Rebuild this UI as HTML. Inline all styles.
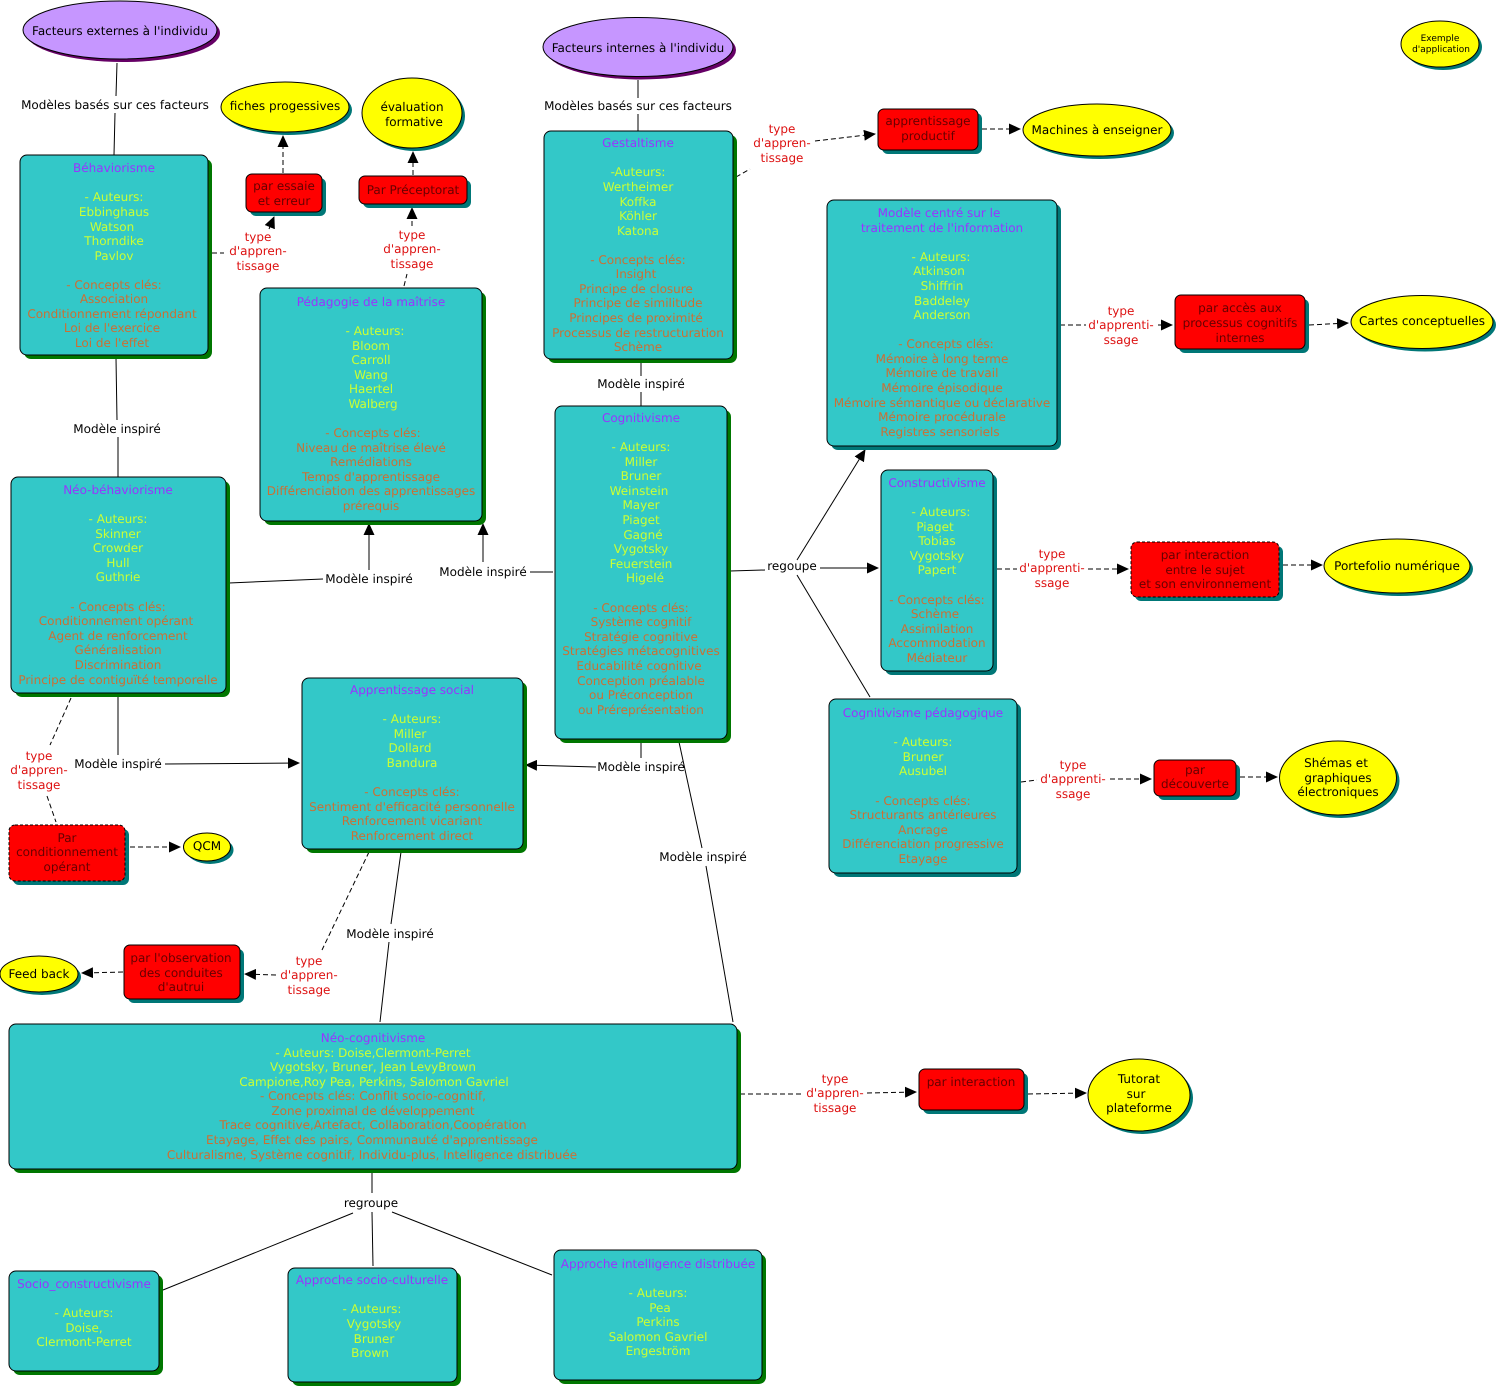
<!DOCTYPE html>
<html><head><meta charset="utf-8"><style>
html,body{margin:0;padding:0;background:#fff}
svg{display:block}
text{font-family:"DejaVu Sans","Liberation Sans",sans-serif;font-size:12px;text-anchor:middle;text-rendering:geometricPrecision}
.p{fill:#9933ff}.y{fill:#ccff33}.o{fill:#cc6f33}.k{fill:#000}.r{fill:#dd1111}.d{fill:#660000}
.b{fill:#33c8c8;stroke:#000;stroke-width:1}
.rd{fill:#f00;stroke:#000;stroke-width:1}
.rs{fill:#f00;stroke:#000;stroke-width:1;stroke-dasharray:3 2}
.g{fill:#007700}.t{fill:#007777}
.el{fill:#ff0;stroke:#000;stroke-width:1}
.pu{fill:#c696ff;stroke:#000;stroke-width:1}
line{stroke:#000;stroke-width:1}
.ds{stroke-dasharray:5 3}
</style></head><body>
<svg xmlns="http://www.w3.org/2000/svg" width="1500" height="1389" viewBox="0 0 1500 1389">
<defs><marker id="a" markerUnits="userSpaceOnUse" markerWidth="12" markerHeight="11" refX="11" refY="5.5" orient="auto"><path d="M0 0L12 5.5L0 11Z" fill="#000"/></marker></defs>

<!-- solid connectors -->
<line x1="117" y1="63" x2="116" y2="96"/><line x1="115" y1="113" x2="114" y2="155"/>
<line x1="638" y1="80" x2="638" y2="98"/><line x1="638" y1="114" x2="638" y2="131"/>
<line x1="116" y1="358" x2="117" y2="420"/><line x1="118" y1="437" x2="118" y2="477"/>
<line x1="229" y1="583" x2="323" y2="579"/><line x1="369" y1="570" x2="369" y2="524" marker-end="url(#a)"/>
<line x1="553" y1="572" x2="530" y2="572"/><line x1="483" y1="562" x2="483" y2="524" marker-end="url(#a)"/>
<line x1="641" y1="362" x2="641" y2="376"/><line x1="641" y1="392" x2="641" y2="406"/>
<line x1="118" y1="696" x2="118" y2="755"/><line x1="165" y1="764" x2="299" y2="763" marker-end="url(#a)"/>
<line x1="641" y1="742" x2="641" y2="758"/><line x1="596" y1="767" x2="526" y2="765" marker-end="url(#a)"/>
<line x1="679" y1="742" x2="702" y2="848"/><line x1="706" y1="866" x2="733" y2="1022"/>
<line x1="401" y1="852" x2="391" y2="924"/><line x1="389" y1="942" x2="380" y2="1022"/>
<line x1="730" y1="571" x2="765" y2="570"/><line x1="820" y1="568" x2="878" y2="568" marker-end="url(#a)"/>
<line x1="797" y1="560" x2="865" y2="450" marker-end="url(#a)"/><line x1="797" y1="575" x2="870" y2="697"/>
<line x1="372" y1="1172" x2="372" y2="1193"/><line x1="353" y1="1213" x2="163" y2="1290"/>
<line x1="372" y1="1212" x2="373" y2="1266"/><line x1="392" y1="1212" x2="552" y2="1275"/>

<!-- dashed connectors -->
<g class="ds">
<line class="ds" x1="212" y1="253" x2="224" y2="253"/><line class="ds" x1="269" y1="229" x2="274" y2="217" marker-end="url(#a)"/>
<line class="ds" x1="283" y1="173" x2="283" y2="136" marker-end="url(#a)"/>
<line class="ds" x1="404" y1="286" x2="407" y2="274"/><line class="ds" x1="412" y1="226" x2="412" y2="208" marker-end="url(#a)"/>
<line class="ds" x1="413" y1="175" x2="413" y2="152" marker-end="url(#a)"/>
<line class="ds" x1="736" y1="177" x2="750" y2="169"/><line class="ds" x1="815" y1="141" x2="875" y2="134" marker-end="url(#a)"/>
<line class="ds" x1="982" y1="129" x2="1020" y2="129" marker-end="url(#a)"/>
<line class="ds" x1="1060" y1="325" x2="1086" y2="325"/><line class="ds" x1="1158" y1="325" x2="1172" y2="325" marker-end="url(#a)"/>
<line class="ds" x1="1309" y1="325" x2="1348" y2="323" marker-end="url(#a)"/>
<line class="ds" x1="997" y1="569" x2="1017" y2="569"/><line class="ds" x1="1088" y1="569" x2="1128" y2="569" marker-end="url(#a)"/>
<line class="ds" x1="1283" y1="565" x2="1322" y2="565" marker-end="url(#a)"/>
<line class="ds" x1="1021" y1="782" x2="1037" y2="780"/><line class="ds" x1="1110" y1="779" x2="1151" y2="779" marker-end="url(#a)"/>
<line class="ds" x1="1240" y1="777" x2="1277" y2="777" marker-end="url(#a)"/>
<line class="ds" x1="71" y1="698" x2="50" y2="745"/><line class="ds" x1="47" y1="796" x2="56" y2="822"/>
<line class="ds" x1="130" y1="847" x2="180" y2="847" marker-end="url(#a)"/>
<line class="ds" x1="369" y1="852" x2="322" y2="950"/><line class="ds" x1="276" y1="975" x2="245" y2="974" marker-end="url(#a)"/>
<line class="ds" x1="123" y1="972" x2="82" y2="973" marker-end="url(#a)"/>
<line class="ds" x1="740" y1="1094" x2="803" y2="1094"/><line class="ds" x1="867" y1="1093" x2="916" y2="1092" marker-end="url(#a)"/>
<line class="ds" x1="1028" y1="1094" x2="1086" y2="1093" marker-end="url(#a)"/>
</g>

<!-- ellipses -->
<ellipse cx="123" cy="33" rx="97" ry="29" fill="#660066"/><ellipse class="pu" cx="120" cy="30" rx="97" ry="29"/>
<ellipse cx="641" cy="50" rx="95" ry="29.5" fill="#660066"/><ellipse class="pu" cx="638" cy="47" rx="95" ry="29.5"/>
<ellipse class="t" cx="1443" cy="47" rx="39" ry="23"/><ellipse class="el" cx="1440" cy="44" rx="39" ry="23"/>
<ellipse class="t" cx="288" cy="110" rx="64" ry="25"/><ellipse class="el" cx="285" cy="107" rx="64" ry="25"/>
<ellipse class="t" cx="415" cy="116" rx="50" ry="35"/><ellipse class="el" cx="412" cy="113" rx="50" ry="35"/>
<ellipse class="t" cx="1100" cy="133" rx="74" ry="26"/><ellipse class="el" cx="1097" cy="130" rx="74" ry="26"/>
<ellipse class="t" cx="1425" cy="325" rx="71" ry="26.5"/><ellipse class="el" cx="1422" cy="322" rx="71" ry="26.5"/>
<ellipse class="t" cx="1400" cy="569" rx="73" ry="27"/><ellipse class="el" cx="1397" cy="566" rx="73" ry="27"/>
<ellipse class="t" cx="1341" cy="781" rx="58.5" ry="37"/><ellipse class="el" cx="1338" cy="778" rx="58.5" ry="37"/>
<ellipse class="t" cx="210" cy="850" rx="23.5" ry="14"/><ellipse class="el" cx="207" cy="847" rx="23.5" ry="14"/>
<ellipse class="t" cx="42" cy="977" rx="39" ry="18"/><ellipse class="el" cx="39" cy="974" rx="39" ry="18"/>
<ellipse class="t" cx="1142" cy="1098" rx="51" ry="36"/><ellipse class="el" cx="1139" cy="1095" rx="51" ry="36"/>

<!-- red boxes -->
<rect class="t" x="250" y="178" width="76" height="38" rx="6"/><rect class="rd" x="246" y="174" width="76" height="38" rx="6"/>
<rect class="t" x="363" y="180" width="108" height="28" rx="6"/><rect class="rd" x="359" y="176" width="108" height="28" rx="6"/>
<rect class="t" x="882" y="113" width="100" height="41" rx="6"/><rect class="rd" x="878" y="109" width="100" height="41" rx="6"/>
<rect class="t" x="1179" y="299" width="130" height="54" rx="6"/><rect class="rd" x="1175" y="295" width="130" height="54" rx="6"/>
<rect class="t" x="1135" y="546" width="148" height="55" rx="6"/><rect class="rs" x="1131" y="542" width="148" height="55" rx="6"/>
<rect class="t" x="1158" y="764" width="82" height="36" rx="6"/><rect class="rd" x="1154" y="760" width="82" height="36" rx="6"/>
<rect class="t" x="13" y="829" width="116" height="56" rx="6"/><rect class="rs" x="9" y="825" width="116" height="56" rx="6"/>
<rect class="t" x="128" y="949" width="116" height="54" rx="6"/><rect class="rd" x="124" y="945" width="116" height="54" rx="6"/>
<rect class="t" x="923" y="1073" width="105" height="41" rx="6"/><rect class="rd" x="919" y="1069" width="105" height="41" rx="6"/>

<!-- teal boxes -->
<rect class="g" x="24" y="159" width="188" height="200" rx="7"/><rect class="b" x="20" y="155" width="188" height="200" rx="7"/>
<rect class="g" x="264" y="292" width="222" height="233" rx="7"/><rect class="b" x="260" y="288" width="222" height="233" rx="7"/>
<rect class="g" x="548" y="135" width="189" height="228" rx="7"/><rect class="b" x="544" y="131" width="189" height="228" rx="7"/>
<rect class="t" x="831" y="204" width="230" height="246" rx="7"/><rect class="b" x="827" y="200" width="230" height="246" rx="7"/>
<rect class="g" x="559" y="410" width="172" height="333" rx="7"/><rect class="b" x="555" y="406" width="172" height="333" rx="7"/>
<rect class="t" x="885" y="474" width="112" height="201" rx="7"/><rect class="b" x="881" y="470" width="112" height="201" rx="7"/>
<rect class="t" x="833" y="703" width="188" height="174" rx="7"/><rect class="b" x="829" y="699" width="188" height="174" rx="7"/>
<rect class="g" x="15" y="481" width="215" height="216" rx="7"/><rect class="b" x="11" y="477" width="215" height="216" rx="7"/>
<rect class="g" x="306" y="682" width="221" height="171" rx="7"/><rect class="b" x="302" y="678" width="221" height="171" rx="7"/>
<rect class="g" x="13" y="1028" width="728" height="145" rx="7"/><rect class="b" x="9" y="1024" width="728" height="145" rx="7"/>
<rect class="g" x="13" y="1275" width="150" height="100" rx="7"/><rect class="b" x="9" y="1271" width="150" height="100" rx="7"/>
<rect class="g" x="292" y="1272" width="169" height="114" rx="7"/><rect class="b" x="288" y="1268" width="169" height="114" rx="7"/>
<rect class="g" x="558" y="1254" width="208" height="130" rx="7"/><rect class="b" x="554" y="1250" width="208" height="130" rx="7"/>

<!-- ellipse labels -->
<text class="k" x="120" y="35">Facteurs externes à l'individu</text>
<text class="k" x="638" y="52">Facteurs internes à l'individu</text>
<text class="k" x="1440" y="41" style="font-size:9px">Exemple</text>
<text class="k" x="1441" y="52" style="font-size:9px">d'application</text>
<text class="k" x="285" y="110">fiches progessives</text>
<text class="k" x="412" y="111">évaluation</text><text class="k" x="414" y="126">formative</text>
<text class="k" x="1097" y="134">Machines à enseigner</text>
<text class="k" x="1422" y="325">Cartes conceptuelles</text>
<text class="k" x="1397" y="570">Portefolio numérique</text>
<text class="k" x="1336" y="767">Shémas et</text><text class="k" x="1338" y="782">graphiques</text><text class="k" x="1338" y="796">électroniques</text>
<text class="k" x="207" y="850">QCM</text>
<text class="k" x="39" y="978">Feed back</text>
<text class="k" x="1139" y="1083">Tutorat</text><text class="k" x="1136" y="1098">sur</text><text class="k" x="1139" y="1112">plateforme</text>

<!-- red box labels -->
<text class="d" x="284" y="190">par essaie</text><text class="d" x="284" y="205">et erreur</text>
<text class="d" x="413" y="194">Par Préceptorat</text>
<text class="d" x="928" y="125">apprentissage</text><text class="d" x="928" y="140">productif</text>
<text class="d" x="1240" y="312">par accès aux</text><text class="d" x="1240" y="327">processus cognitifs</text><text class="d" x="1240" y="342">internes</text>
<text class="d" x="1205" y="559">par interaction</text><text class="d" x="1205" y="574">entre le sujet</text><text class="d" x="1205" y="588">et son environnement</text>
<text class="d" x="1195" y="774">par</text><text class="d" x="1195" y="788">découverte</text>
<text class="d" x="67" y="842">Par</text><text class="d" x="67" y="856">conditionnement</text><text class="d" x="67" y="871">opérant</text>
<text class="d" x="181" y="962">par l'observation</text><text class="d" x="181" y="977">des conduites</text><text class="d" x="181" y="991">d'autrui</text>
<text class="d" x="971" y="1086">par interaction</text>

<!-- connector labels -->
<text class="k" x="115" y="109">Modèles basés sur ces facteurs</text>
<text class="k" x="638" y="110">Modèles basés sur ces facteurs</text>
<text class="k" x="117" y="433">Modèle inspiré</text>
<text class="k" x="369" y="583">Modèle inspiré</text>
<text class="k" x="483" y="576">Modèle inspiré</text>
<text class="k" x="641" y="388">Modèle inspiré</text>
<text class="k" x="118" y="768">Modèle inspiré</text>
<text class="k" x="641" y="771">Modèle inspiré</text>
<text class="k" x="703" y="861">Modèle inspiré</text>
<text class="k" x="390" y="938">Modèle inspiré</text>
<text class="k" x="792" y="570">regoupe</text>
<text class="k" x="371" y="1207">regroupe</text>

<text class="r" x="258" y="241">type</text><text class="r" x="258" y="255">d'appren-</text><text class="r" x="258" y="270">tissage</text>
<text class="r" x="412" y="239">type</text><text class="r" x="412" y="253">d'appren-</text><text class="r" x="412" y="268">tissage</text>
<text class="r" x="782" y="133">type</text><text class="r" x="782" y="147">d'appren-</text><text class="r" x="782" y="162">tissage</text>
<text class="r" x="1121" y="315">type</text><text class="r" x="1121" y="329">d'apprenti-</text><text class="r" x="1121" y="344">ssage</text>
<text class="r" x="1052" y="558">type</text><text class="r" x="1052" y="572">d'apprenti-</text><text class="r" x="1052" y="587">ssage</text>
<text class="r" x="1073" y="769">type</text><text class="r" x="1073" y="783">d'apprenti-</text><text class="r" x="1073" y="798">ssage</text>
<text class="r" x="39" y="760">type</text><text class="r" x="39" y="774">d'appren-</text><text class="r" x="39" y="789">tissage</text>
<text class="r" x="309" y="965">type</text><text class="r" x="309" y="979">d'appren-</text><text class="r" x="309" y="994">tissage</text>
<text class="r" x="835" y="1083">type</text><text class="r" x="835" y="1097">d'appren-</text><text class="r" x="835" y="1112">tissage</text>

<!-- Béhaviorisme -->
<text class="p" x="114" y="172">Béhaviorisme</text>
<text class="y" x="114" y="201">- Auteurs:</text><text class="y" x="114" y="216">Ebbinghaus</text><text class="y" x="112" y="231">Watson</text><text class="y" x="114" y="245">Thorndike</text><text class="y" x="114" y="260">Pavlov</text>
<text class="o" x="114" y="289">- Concepts clés:</text><text class="o" x="114" y="303">Association</text><text class="o" x="112" y="318">Conditionnement répondant</text><text class="o" x="112" y="332">Loi de l'exercice</text><text class="o" x="112" y="347">Loi de l'effet</text>

<!-- Pédagogie -->
<text class="p" x="371" y="306">Pédagogie de la maîtrise</text>
<text class="y" x="375" y="335">- Auteurs:</text><text class="y" x="371" y="350">Bloom</text><text class="y" x="371" y="364">Carroll</text><text class="y" x="371" y="379">Wang</text><text class="y" x="371" y="393">Haertel</text><text class="y" x="373" y="408">Walberg</text>
<text class="o" x="373" y="437">- Concepts clés:</text><text class="o" x="371" y="452">Niveau de maîtrise  élevé</text><text class="o" x="371" y="466">Remédiations</text><text class="o" x="371" y="481">Temps d'apprentissage</text><text class="o" x="371" y="495">Différenciation des apprentissages</text><text class="o" x="371" y="510">prérequis</text>

<!-- Gestaltisme -->
<text class="p" x="638" y="147">Gestaltisme</text>
<text class="y" x="638" y="176">-Auteurs:</text><text class="y" x="638" y="191">Wertheimer</text><text class="y" x="638" y="206">Koffka</text><text class="y" x="638" y="220">Köhler</text><text class="y" x="638" y="235">Katona</text>
<text class="o" x="638" y="264">- Concepts clés:</text><text class="o" x="636" y="278">Insight</text><text class="o" x="636" y="293">Principe de closure</text><text class="o" x="638" y="307">Principe de similitude</text><text class="o" x="636" y="322">Principes de proximité</text><text class="o" x="638" y="337">Processus de restructuration</text><text class="o" x="638" y="351">Schème</text>

<!-- Modèle centré -->
<text class="p" x="939" y="217">Modèle centré sur le</text><text class="p" x="942" y="232">traitement de l'information</text>
<text class="y" x="941" y="261">- Auteurs:</text><text class="y" x="939" y="275">Atkinson</text><text class="y" x="942" y="290">Shiffrin</text><text class="y" x="942" y="305">Baddeley</text><text class="y" x="942" y="319">Anderson</text>
<text class="o" x="946" y="348">- Concepts clés:</text><text class="o" x="942" y="363">Mémoire à long terme</text><text class="o" x="942" y="377">Mémoire de travail</text><text class="o" x="942" y="392">Mémoire épisodique</text><text class="o" x="942" y="407">Mémoire sémantique ou déclarative</text><text class="o" x="942" y="421">Mémoire procédurale</text><text class="o" x="940" y="436">Registres sensoriels</text>

<!-- Cognitivisme -->
<text class="p" x="641" y="422">Cognitivisme</text>
<text class="y" x="641" y="451">- Auteurs:</text><text class="y" x="641" y="466">Miller</text><text class="y" x="641" y="480">Bruner</text><text class="y" x="639" y="495">Weinstein</text><text class="y" x="641" y="509">Mayer</text><text class="y" x="641" y="524">Piaget</text><text class="y" x="643" y="539">Gagné</text><text class="y" x="641" y="553">Vygotsky</text><text class="y" x="641" y="568">Feuerstein</text><text class="y" x="645" y="582">Higelé</text>
<text class="o" x="641" y="612">- Concepts clés:</text><text class="o" x="641" y="626">Système cognitif</text><text class="o" x="641" y="641">Stratégie cognitive</text><text class="o" x="641" y="655">Stratégies métacognitives</text><text class="o" x="639" y="670">Educabilité cognitive</text><text class="o" x="641" y="685">Conception préalable</text><text class="o" x="641" y="699">ou Préconception</text><text class="o" x="641" y="714">ou Préreprésentation</text>

<!-- Constructivisme -->
<text class="p" x="937" y="487">Constructivisme</text>
<text class="y" x="941" y="516">- Auteurs:</text><text class="y" x="935" y="531">Piaget</text><text class="y" x="937" y="545">Tobias</text><text class="y" x="937" y="560">Vygotsky</text><text class="y" x="937" y="574">Papert</text>
<text class="o" x="937" y="604">- Concepts clés:</text><text class="o" x="935" y="618">Schème</text><text class="o" x="937" y="633">Assimilation</text><text class="o" x="937" y="647">Accommodation</text><text class="o" x="937" y="662">Médiateur</text>

<!-- Cognitivisme pédagogique -->
<text class="p" x="923" y="717">Cognitivisme pédagogique</text>
<text class="y" x="923" y="746">- Auteurs:</text><text class="y" x="923" y="761">Bruner</text><text class="y" x="923" y="775">Ausubel</text>
<text class="o" x="923" y="805">- Concepts clés:</text><text class="o" x="923" y="819">Structurants antérieures</text><text class="o" x="923" y="834">Ancrage</text><text class="o" x="923" y="848">Différenciation progressive</text><text class="o" x="923" y="863">Etayage</text>

<!-- Néo-béhaviorisme -->
<text class="p" x="118" y="494">Néo-béhaviorisme</text>
<text class="y" x="118" y="523">- Auteurs:</text><text class="y" x="118" y="538">Skinner</text><text class="y" x="118" y="552">Crowder</text><text class="y" x="118" y="567">Hull</text><text class="y" x="118" y="581">Guthrie</text>
<text class="o" x="118" y="611">- Concepts clés:</text><text class="o" x="116" y="625">Conditionnement opérant</text><text class="o" x="118" y="640">Agent de renforcement</text><text class="o" x="118" y="654">Généralisation</text><text class="o" x="118" y="669">Discrimination</text><text class="o" x="118" y="684">Principe de contiguïté temporelle</text>

<!-- Apprentissage social -->
<text class="p" x="412" y="694">Apprentissage social</text>
<text class="y" x="412" y="723">- Auteurs:</text><text class="y" x="410" y="738">Miller</text><text class="y" x="410" y="752">Dollard</text><text class="y" x="412" y="767">Bandura</text>
<text class="o" x="412" y="796">- Concepts clés:</text><text class="o" x="412" y="811">Sentiment d'efficacité personnelle</text><text class="o" x="412" y="825">Renforcement vicariant</text><text class="o" x="412" y="840">Renforcement direct</text>

<!-- Néo-cognitivisme -->
<text class="p" x="373" y="1042">Néo-cognitivisme</text>
<text class="y" x="373" y="1057">- Auteurs: Doise,Clermont-Perret</text><text class="y" x="373" y="1071">Vygotsky, Bruner, Jean LevyBrown</text><text class="y" x="374" y="1086">Campione,Roy Pea, Perkins, Salomon Gavriel</text>
<text class="o" x="373" y="1100">- Concepts clés: Conflit socio-cognitif,</text><text class="o" x="373" y="1115">Zone proximal de développement</text><text class="o" x="373" y="1129">Trace cognitive,Artefact, Collaboration,Coopération</text><text class="o" x="372" y="1144">Etayage, Effet des pairs, Communauté d'apprentissage</text><text class="o" x="372" y="1159">Culturalisme, Système cognitif, Individu-plus, Intelligence distribuée</text>

<!-- bottom boxes -->
<text class="p" x="84" y="1288">Socio_constructivisme</text>
<text class="y" x="84" y="1317">- Auteurs:</text><text class="y" x="84" y="1332">Doise,</text><text class="y" x="84" y="1346">Clermont-Perret</text>
<text class="p" x="372" y="1284">Approche socio-culturelle</text>
<text class="y" x="372" y="1313">- Auteurs:</text><text class="y" x="374" y="1328">Vygotsky</text><text class="y" x="374" y="1343">Bruner</text><text class="y" x="370" y="1357">Brown</text>
<text class="p" x="658" y="1268">Approche intelligence distribuée</text>
<text class="y" x="658" y="1297">- Auteurs:</text><text class="y" x="660" y="1312">Pea</text><text class="y" x="658" y="1326">Perkins</text><text class="y" x="658" y="1341">Salomon Gavriel</text><text class="y" x="658" y="1355">Engeström</text>
</svg>
</body></html>
